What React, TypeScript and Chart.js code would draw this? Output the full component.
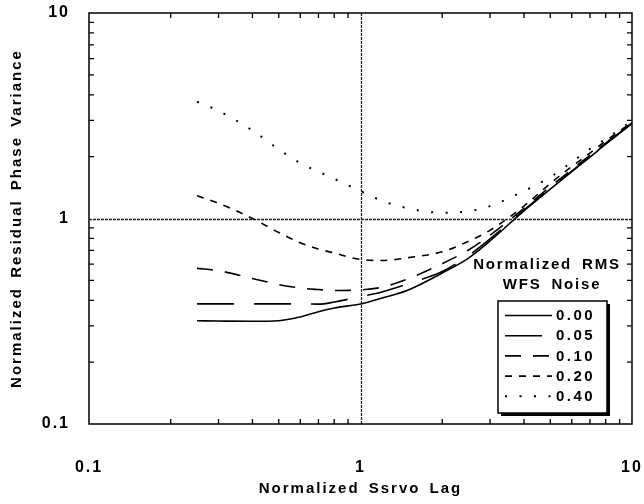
import React, { useEffect, useRef } from 'react';
import { Chart, registerables } from 'chart.js';

Chart.register(...registerables);

// Normalized servo lag (x)
const xValues = [0.25, 0.3, 0.4, 0.5, 0.6, 0.7, 0.8, 1.0, 1.2, 1.5, 2, 2.5, 3, 4, 5, 6, 7, 8, 10];

// Normalized residual phase variance for each normalized RMS WFS noise level
const noise000 = [0.318, 0.317, 0.316, 0.318, 0.332, 0.352, 0.367, 0.384, 0.41, 0.449, 0.543, 0.642, 0.778, 1.09, 1.39, 1.69, 1.99, 2.3, 2.9];
const noise005 = [0.384, 0.384, 0.384, 0.384, 0.384, 0.383, 0.392, 0.417, 0.439, 0.482, 0.552, 0.66, 0.795, 1.1, 1.4, 1.7, 2.0, 2.31, 2.91];
const noise010 = [0.572, 0.557, 0.511, 0.477, 0.459, 0.451, 0.446, 0.449, 0.463, 0.509, 0.603, 0.703, 0.83, 1.12, 1.43, 1.73, 2.03, 2.33, 2.92];
const noise020 = [1.29, 1.187, 1.0, 0.855, 0.762, 0.711, 0.679, 0.632, 0.625, 0.645, 0.689, 0.775, 0.876, 1.15, 1.48, 1.79, 2.08, 2.38, 2.94];
const noise040 = [3.7, 3.34, 2.68, 2.17, 1.86, 1.69, 1.56, 1.36, 1.22, 1.12, 1.067, 1.084, 1.149, 1.36, 1.59, 1.88, 2.18, 2.44, 2.98];

const legendLabels = ['0.00', '0.05', '0.10', '0.20', '0.40'];
const legendTitle = ['Normalized RMS', 'WFS Noise'];
const xTickValues = [0.1, 1, 10];
const yTickValues = [0.1, 1, 10];
const xTitle = 'Normalized Ssrvo Lag';
const yTitle = 'Normalized Residual Phase Variance';

const dashPatterns: number[][] = [[], [37, 20], [16, 12], [7, 7], [2, 12.5]];
const FONT = '"Liberation Sans", Arial, sans-serif';

const fmt = (vals: number[]) => (v: number | string) => {
  const n = Number(v);
  const t = vals.find((tv) => Math.abs(n - tv) < tv * 1e-6);
  return t === undefined ? '' : String(t);
};

const framePlugin = {
  id: 'frame',
  beforeDraw(chart: any) {
    const ctx = chart.ctx;
    ctx.letterSpacing = '2px';
    ctx.wordSpacing = '3px';
  },
  beforeDatasetsDraw(chart: any) {
    const ctx = chart.ctx;
    const { left, right, top, bottom } = chart.chartArea;
    const xs = chart.scales.x;
    const ys = chart.scales.y;
    ctx.save();
    ctx.strokeStyle = '#222';
    ctx.lineWidth = 1.3;
    ctx.setLineDash([3, 1]);
    const gx = Math.round(xs.getPixelForValue(1)) + 0.5;
    const gy = Math.round(ys.getPixelForValue(1)) + 0.5;
    ctx.beginPath();
    ctx.moveTo(gx, top);
    ctx.lineTo(gx, bottom);
    ctx.moveTo(left, gy);
    ctx.lineTo(right, gy);
    ctx.stroke();
    ctx.restore();
  },
  afterDraw(chart: any) {
    const ctx = chart.ctx;
    const { left, right, top, bottom } = chart.chartArea;
    const xs = chart.scales.x;
    const ys = chart.scales.y;
    ctx.save();
    ctx.setLineDash([]);
    ctx.strokeStyle = '#000';
    ctx.lineWidth = 1.5;
    ctx.strokeRect(left, top, right - left, bottom - top);
    // inward minor ticks on all four sides
    const tl = 5;
    ctx.lineWidth = 1.3;
    ctx.beginPath();
    for (const d of [0.1, 1]) {
      for (let k = 2; k <= 9; k++) {
        const v = k * d;
        const px = xs.getPixelForValue(v);
        ctx.moveTo(px, bottom);
        ctx.lineTo(px, bottom - tl);
        ctx.moveTo(px, top);
        ctx.lineTo(px, top + tl);
        const py = ys.getPixelForValue(v);
        ctx.moveTo(left, py);
        ctx.lineTo(left + tl, py);
        ctx.moveTo(right, py);
        ctx.lineTo(right - tl, py);
      }
    }
    ctx.stroke();

    // legend
    ctx.fillStyle = '#000';
    ctx.font = `bold 15px ${FONT}`;
    ctx.letterSpacing = '1.8px';
    ctx.wordSpacing = '4px';
    ctx.textAlign = 'center';
    ctx.textBaseline = 'middle';
    ctx.fillText(legendTitle[0], right - 85, top + 252);
    ctx.fillText(legendTitle[1], right - 80, top + 272);

    const bx = right - 134;
    const by = top + 288;
    const bw = 109;
    const bh = 112;
    ctx.fillRect(bx + 3, by + 3, bw, bh);
    ctx.fillStyle = '#fff';
    ctx.fillRect(bx, by, bw, bh);
    ctx.lineWidth = 1.5;
    ctx.strokeStyle = '#000';
    ctx.strokeRect(bx, by, bw, bh);

    ctx.textAlign = 'left';
    ctx.letterSpacing = '2.5px';
    ctx.fillStyle = '#000';
    legendLabels.forEach((lab, i) => {
      const cy = by + 14.5 + i * 20.2;
      ctx.save();
      ctx.lineWidth = i === 4 ? 2 : 1.6;
      ctx.setLineDash(dashPatterns[i]);
      ctx.beginPath();
      ctx.moveTo(bx + 7, cy);
      ctx.lineTo(bx + 54, cy);
      ctx.stroke();
      ctx.restore();
      ctx.fillText(lab, bx + 58, cy + 0.5);
    });
    ctx.restore();
  },
};

export default function App() {
  const ref = useRef<HTMLCanvasElement>(null);
  useEffect(() => {
    document.body.style.margin = '0';
    const canvas = ref.current;
    if (!canvas) return;
    const series = [noise000, noise005, noise010, noise020, noise040];
    const chart = new Chart(canvas, {
      type: 'line',
      data: {
        datasets: series.map((s, i) => ({
          label: legendLabels[i],
          data: xValues.map((x, j) => ({ x, y: s[j] })),
          borderColor: '#000',
          borderWidth: i === 4 ? 2 : 1.6,
          borderDash: dashPatterns[i],
          pointRadius: 0,
          cubicInterpolationMode: 'monotone' as const,
          fill: false,
        })),
      },
      options: {
        responsive: false,
        animation: false,
        devicePixelRatio: 1,
        layout: { padding: { top: 13, right: 12, left: 0, bottom: 0 } },
        plugins: { legend: { display: false }, tooltip: { enabled: false } },
        scales: {
          x: {
            type: 'logarithmic',
            min: 0.1,
            max: 10,
            grid: { display: false, drawTicks: false },
            border: { display: false },
            ticks: {
              autoSkip: false,
              maxRotation: 0,
              padding: 34,
              color: '#000',
              font: { family: FONT, weight: 'bold', size: 16 },
              callback: fmt(xTickValues),
            },
            title: {
              display: true,
              text: xTitle,
              color: '#000',
              font: { family: FONT, weight: 'bold', size: 15 },
              padding: { top: 0, bottom: 6 },
            },
            afterFit: (scale: any) => {
              scale.height = 80;
              scale.paddingLeft = 0;
              scale.paddingRight = 0;
            },
          },
          y: {
            type: 'logarithmic',
            min: 0.1,
            max: 10,
            grid: { display: false, drawTicks: false },
            border: { display: false },
            ticks: {
              autoSkip: false,
              padding: 19,
              color: '#000',
              font: { family: FONT, weight: 'bold', size: 16 },
              callback: fmt(yTickValues),
            },
            title: {
              display: true,
              text: yTitle,
              color: '#000',
              font: { family: FONT, weight: 'bold', size: 15 },
              padding: { top: 8, bottom: 0 },
            },
            afterFit: (scale: any) => {
              scale.width = 89;
              scale.paddingTop = 0;
              scale.paddingBottom = 0;
            },
          },
        },
      } as any,
      plugins: [framePlugin],
    });
    return () => chart.destroy();
  }, []);
  return (
    <div style={{ width: 644, height: 504 }}>
      <canvas ref={ref} width={644} height={504} style={{ display: 'block' }} />
    </div>
  );
}
